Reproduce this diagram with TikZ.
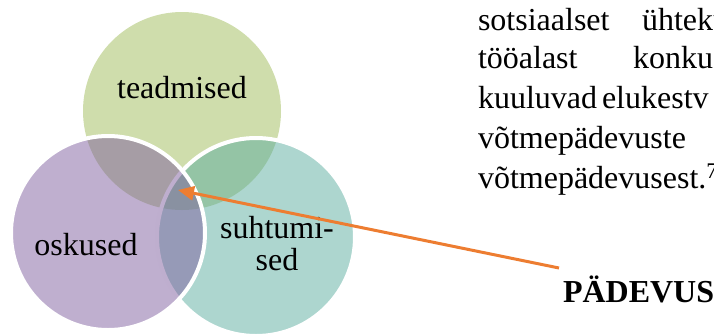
\documentclass[tikz,border=0pt]{standalone}
\usepackage{fontspec}
\setmainfont{Liberation Serif}
\usetikzlibrary{arrows.meta}
\definecolor{cgreen}{RGB}{207,221,172}
\definecolor{cteal}{RGB}{91,173,159}
\definecolor{cpurple}{RGB}{127,95,159}
\definecolor{corange}{RGB}{237,125,49}
\tikzset{
  txt/.style={inner sep=0pt, outer sep=0pt, font=\fontsize{32}{39}\selectfont},
  boldtxt/.style={txt, font=\fontsize{32}{39}\selectfont\bfseries},
  vcircle/.style={draw=white, line width=4pt, fill opacity=0.5, draw opacity=1},
  pointer/.style={draw=corange, line width=3pt, -{Triangle[length=16pt,width=14pt]}}
}
\begin{document}
\begin{tikzpicture}[x=1pt,y=-1pt]
\clip (0,0) rectangle (714,333);
\useasboundingbox (0,0) rectangle (714,333);
% Venn circles
\fill[cgreen] (182,111) circle[radius=99];
\path[vcircle, fill=cteal] (256,237) circle[radius=99];
\path[vcircle, fill=cpurple] (108,233) circle[radius=97];
% labels
\node[txt, anchor=base] (teadmised) at (182,98) {teadmised};
\node[txt, anchor=base] (oskused) at (86,255) {oskused};
\node[txt, anchor=base] (suhtumi) at (277,238) {suhtumi-};
\node[txt, anchor=base] (sed) at (277,270) {sed};
% right text
\node[txt, anchor=base west] (l1a) at (478,30) {sotsiaalset};
\node[txt, anchor=base west] (l1b) at (642,30) {ühteku};
\node[txt, anchor=base west] (l2a) at (478,68) {tööalast};
\node[txt, anchor=base west] (l2b) at (633,68) {konku};
\node[txt, anchor=base west] (l3a) at (478,108) {kuuluvad};
\node[txt, anchor=base west] (l3b) at (602,108) {elukestv};
\node[txt, anchor=base west] (l4) at (478,148) {võtmepädevuste};
\node[txt, anchor=base west] (l5) at (478,188) {võtmepädevusest.\textsuperscript{7}};
\node[boldtxt, anchor=base west] (padevus) at (563,302) {PÄDEVUS};
% arrow
\coordinate (arrstart) at (559,268);
\coordinate (arrtip) at (178,190);
\draw[pointer] (arrstart) -- (arrtip);
\end{tikzpicture}
\end{document}
